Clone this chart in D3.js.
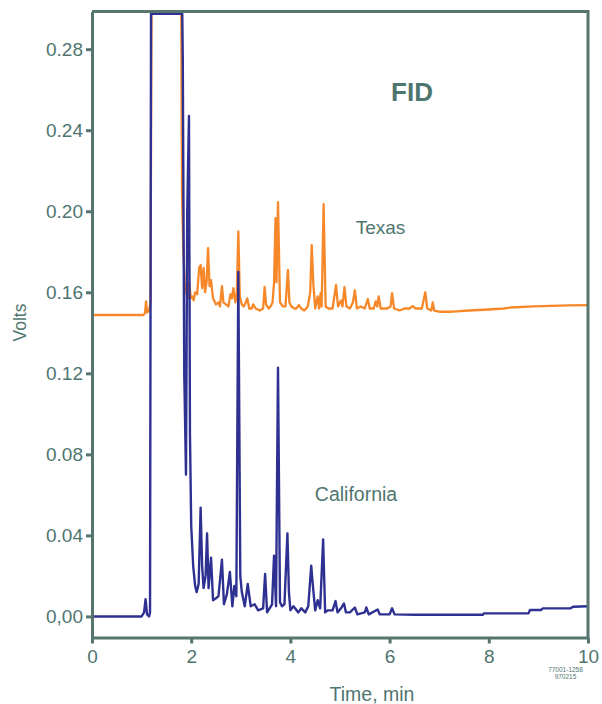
<!DOCTYPE html>
<meta charset="utf-8">
<script src="https://d3js.org/d3.v7.min.js"></script>
<style>
body { margin: 0; background: #fff; }
svg { font-family: "Liberation Sans", Arial, sans-serif; }
.axis path, .axis line { stroke: #56756f; stroke-width: 3; }
.axis text { fill: #4f756f; font-size: 19px; }
.label { fill: #4f756f; }
</style>
<div id="chart"></div>
<script>
// tick values and labels
var xTicks = [0, 2, 4, 6, 8, 10];
var yTicks = [0.28, 0.24, 0.20, 0.16, 0.12, 0.08, 0.04, 0.00];
var yTickLabels = ["0.28", "0.24", "0.20", "0.16", "0.12", "0.08", "0.04", "0,00"];

// Texas trace: [time (min), volts]
var texas = [
  [0,0.1488],[1.04,0.1488],[1.07,0.150],[1.09,0.1555],[1.11,0.150],[1.15,0.151],[1.18,0.155],
  [1.20,0.2975],[1.80,0.2975],[1.815,0.209],[1.84,0.18],[1.87,0.165],[1.90,0.16],[1.93,0.157],
  [1.96,0.165],[1.99,0.157],[2.02,0.158],[2.05,0.156],[2.08,0.16],[2.12,0.159],[2.16,0.172],
  [2.19,0.1734],[2.22,0.162],[2.25,0.172],[2.28,0.160],[2.31,0.165],[2.34,0.1818],[2.37,0.163],
  [2.40,0.166],[2.44,0.157],[2.50,0.154],[2.55,0.155],[2.58,0.153],[2.62,0.163],[2.65,0.155],
  [2.70,0.154],[2.75,0.153],[2.79,0.159],[2.82,0.157],[2.85,0.162],[2.89,0.155],[2.92,0.16],
  [2.95,0.190],[2.98,0.158],[3.02,0.154],[3.06,0.153],[3.10,0.155],[3.13,0.157],[3.17,0.152],
  [3.22,0.152],[3.25,0.154],[3.30,0.152],[3.38,0.151],[3.45,0.152],[3.48,0.1626],[3.51,0.154],
  [3.56,0.152],[3.60,0.153],[3.64,0.155],[3.67,0.1645],[3.70,0.1966],[3.72,0.165],[3.75,0.2045],
  [3.79,0.155],[3.85,0.153],[3.90,0.153],[3.95,0.171],[3.98,0.155],[4.02,0.153],[4.08,0.152],
  [4.12,0.152],[4.17,0.1537],[4.22,0.152],[4.28,0.151],[4.35,0.153],[4.40,0.16],[4.43,0.1833],
  [4.46,0.165],[4.50,0.152],[4.55,0.158],[4.58,0.152],[4.61,0.1596],[4.63,0.153],[4.67,0.2035],
  [4.71,0.153],[4.77,0.152],[4.85,0.152],[4.92,0.1636],[4.96,0.153],[5.02,0.156],[5.05,0.153],
  [5.09,0.1626],[5.13,0.153],[5.20,0.152],[5.26,0.155],[5.30,0.161],[5.34,0.152],[5.42,0.153],
  [5.50,0.152],[5.56,0.1567],[5.60,0.152],[5.68,0.152],[5.72,0.1555],[5.75,0.153],[5.78,0.158],
  [5.82,0.152],[5.95,0.152],[6.02,0.153],[6.05,0.1596],[6.09,0.152],[6.20,0.151],[6.30,0.152],
  [6.40,0.152],[6.47,0.1532],[6.52,0.152],[6.65,0.152],[6.72,0.160],[6.76,0.152],[6.84,0.151],
  [6.87,0.155],[6.90,0.151],[7.0,0.1504],[7.2,0.1504],[7.35,0.1506],[7.6,0.151],[8.0,0.1515],
  [8.3,0.152],[8.45,0.1525],[8.9,0.153],[9.6,0.1535],[10,0.1537]
];

// California trace: [time (min), volts]
var california = [
  [0,0.0],[1.00,0.0],[1.05,0.002],[1.08,0.0085],[1.11,0.001],[1.15,0.0],[1.17,0.002],
  [1.19,0.2975],[1.82,0.2975],[1.83,0.276],[1.86,0.12],[1.895,0.070],[1.92,0.20],[1.955,0.247],
  [1.975,0.09],[2.00,0.045],[2.04,0.025],[2.08,0.015],[2.11,0.012],[2.15,0.016],[2.19,0.0537],
  [2.22,0.025],[2.25,0.014],[2.29,0.02],[2.32,0.041],[2.35,0.014],[2.40,0.029],[2.44,0.008],
  [2.50,0.009],[2.55,0.01],[2.62,0.028],[2.66,0.006],[2.72,0.011],[2.78,0.022],[2.83,0.005],
  [2.87,0.015],[2.91,0.01],[2.95,0.170],[2.99,0.02],[3.02,0.012],[3.08,0.005],[3.14,0.016],
  [3.20,0.005],[3.28,0.006],[3.35,0.003],[3.45,0.004],[3.49,0.021],[3.53,0.002],[3.58,0.004],
  [3.63,0.006],[3.67,0.030],[3.71,0.005],[3.75,0.1228],[3.79,0.007],[3.83,0.005],[3.88,0.006],
  [3.94,0.041],[3.97,0.012],[4.0,0.003],[4.06,0.005],[4.16,0.002],[4.22,0.004],[4.30,0.002],
  [4.36,0.005],[4.42,0.025],[4.45,0.016],[4.50,0.003],[4.55,0.008],[4.60,0.004],[4.66,0.038],
  [4.70,0.002],[4.75,0.003],[4.85,0.003],[4.91,0.0076],[4.95,0.002],[5.02,0.004],[5.08,0.0064],
  [5.12,0.002],[5.2,0.002],[5.3,0.0044],[5.35,0.001],[5.5,0.002],[5.53,0.0044],[5.58,0.001],
  [5.76,0.0034],[5.8,0.001],[6.0,0.001],[6.05,0.004],[6.1,0.001],[6.5,0.0008],[7.0,0.0008],
  [7.5,0.0008],[7.88,0.0008],[7.9,0.0015],[8.5,0.0015],[8.8,0.0015],[8.83,0.0032],[9.05,0.0032],
  [9.09,0.004],[9.65,0.004],[9.7,0.0048],[10,0.005]
];

var margin = {top: 11.5, right: 14, bottom: 66.5, left: 92},
    width = 602 - margin.left - margin.right,
    height = 704 - margin.top - margin.bottom;

var svg = d3.select("#chart").append("svg")
    .attr("width", 602)
    .attr("height", 704)
  .append("g")
    .attr("transform", "translate(" + margin.left + "," + margin.top + ")");

var x = d3.scaleLinear().domain([0, 10]).range([0, width]);
var y = d3.scaleLinear().domain([-0.0104, 0.2986]).range([height, 0]);

svg.append("clipPath").attr("id", "plot")
  .append("rect").attr("width", width).attr("height", height);

var line = d3.line()
    .x(function(d) { return x(d[0]); })
    .y(function(d) { return y(d[1]); });

var traces = svg.append("g").attr("clip-path", "url(#plot)");

traces.append("path").datum(texas)
    .attr("d", line)
    .attr("fill", "none")
    .attr("stroke", "#f7882a")
    .attr("stroke-width", 2.3)
    .attr("stroke-linejoin", "round");

traces.append("path").datum(california)
    .attr("d", line)
    .attr("fill", "none")
    .attr("stroke", "#2e3192")
    .attr("stroke-width", 2.4)
    .attr("stroke-linejoin", "round");

// axes
svg.append("g")
    .attr("class", "axis")
    .attr("transform", "translate(0," + height + ")")
    .call(d3.axisBottom(x).tickValues(xTicks).tickSize(6).tickSizeOuter(0))
    .selectAll("text").attr("y", 12.5).attr("dy", "0.71em");

svg.append("g")
    .attr("class", "axis")
    .call(d3.axisLeft(y).tickValues(yTicks).tickSize(6).tickSizeOuter(0)
        .tickFormat(function(d, i) { return yTickLabels[i]; }));

// top and right border
svg.append("path")
    .attr("d", "M0,0H" + width + "V" + height)
    .attr("fill", "none")
    .attr("stroke", "#56756f")
    .attr("stroke-width", 3);

// labels
svg.append("text")
    .attr("class", "label")
    .attr("transform", "translate(-66," + (height / 2 - 2) + ") rotate(-90)")
    .attr("text-anchor", "middle")
    .style("font-size", "17.5px")
    .text("Volts");

svg.append("text")
    .attr("class", "label")
    .attr("x", 280).attr("y", 689)
    .attr("text-anchor", "middle")
    .style("font-size", "19.5px")
    .text("Time, min");

svg.append("text")
    .attr("class", "label")
    .attr("x", 320).attr("y", 89.5)
    .attr("text-anchor", "middle")
    .style("font-size", "26px")
    .style("font-weight", "bold")
    .text("FID");

svg.append("text")
    .attr("class", "label")
    .attr("x", 288.5).attr("y", 222.5)
    .attr("text-anchor", "middle")
    .style("font-size", "19px")
    .text("Texas");

svg.append("text")
    .attr("class", "label")
    .attr("x", 264).attr("y", 489.5)
    .attr("text-anchor", "middle")
    .style("font-size", "19.5px")
    .text("California");

svg.append("text")
    .attr("class", "label")
    .attr("x", 473.5).attr("y", 660)
    .attr("text-anchor", "middle")
    .style("font-size", "6.5px")
    .text("77001-1258");

svg.append("text")
    .attr("class", "label")
    .attr("x", 473.5).attr("y", 667.5)
    .attr("text-anchor", "middle")
    .style("font-size", "6.5px")
    .text("970215");
</script>
